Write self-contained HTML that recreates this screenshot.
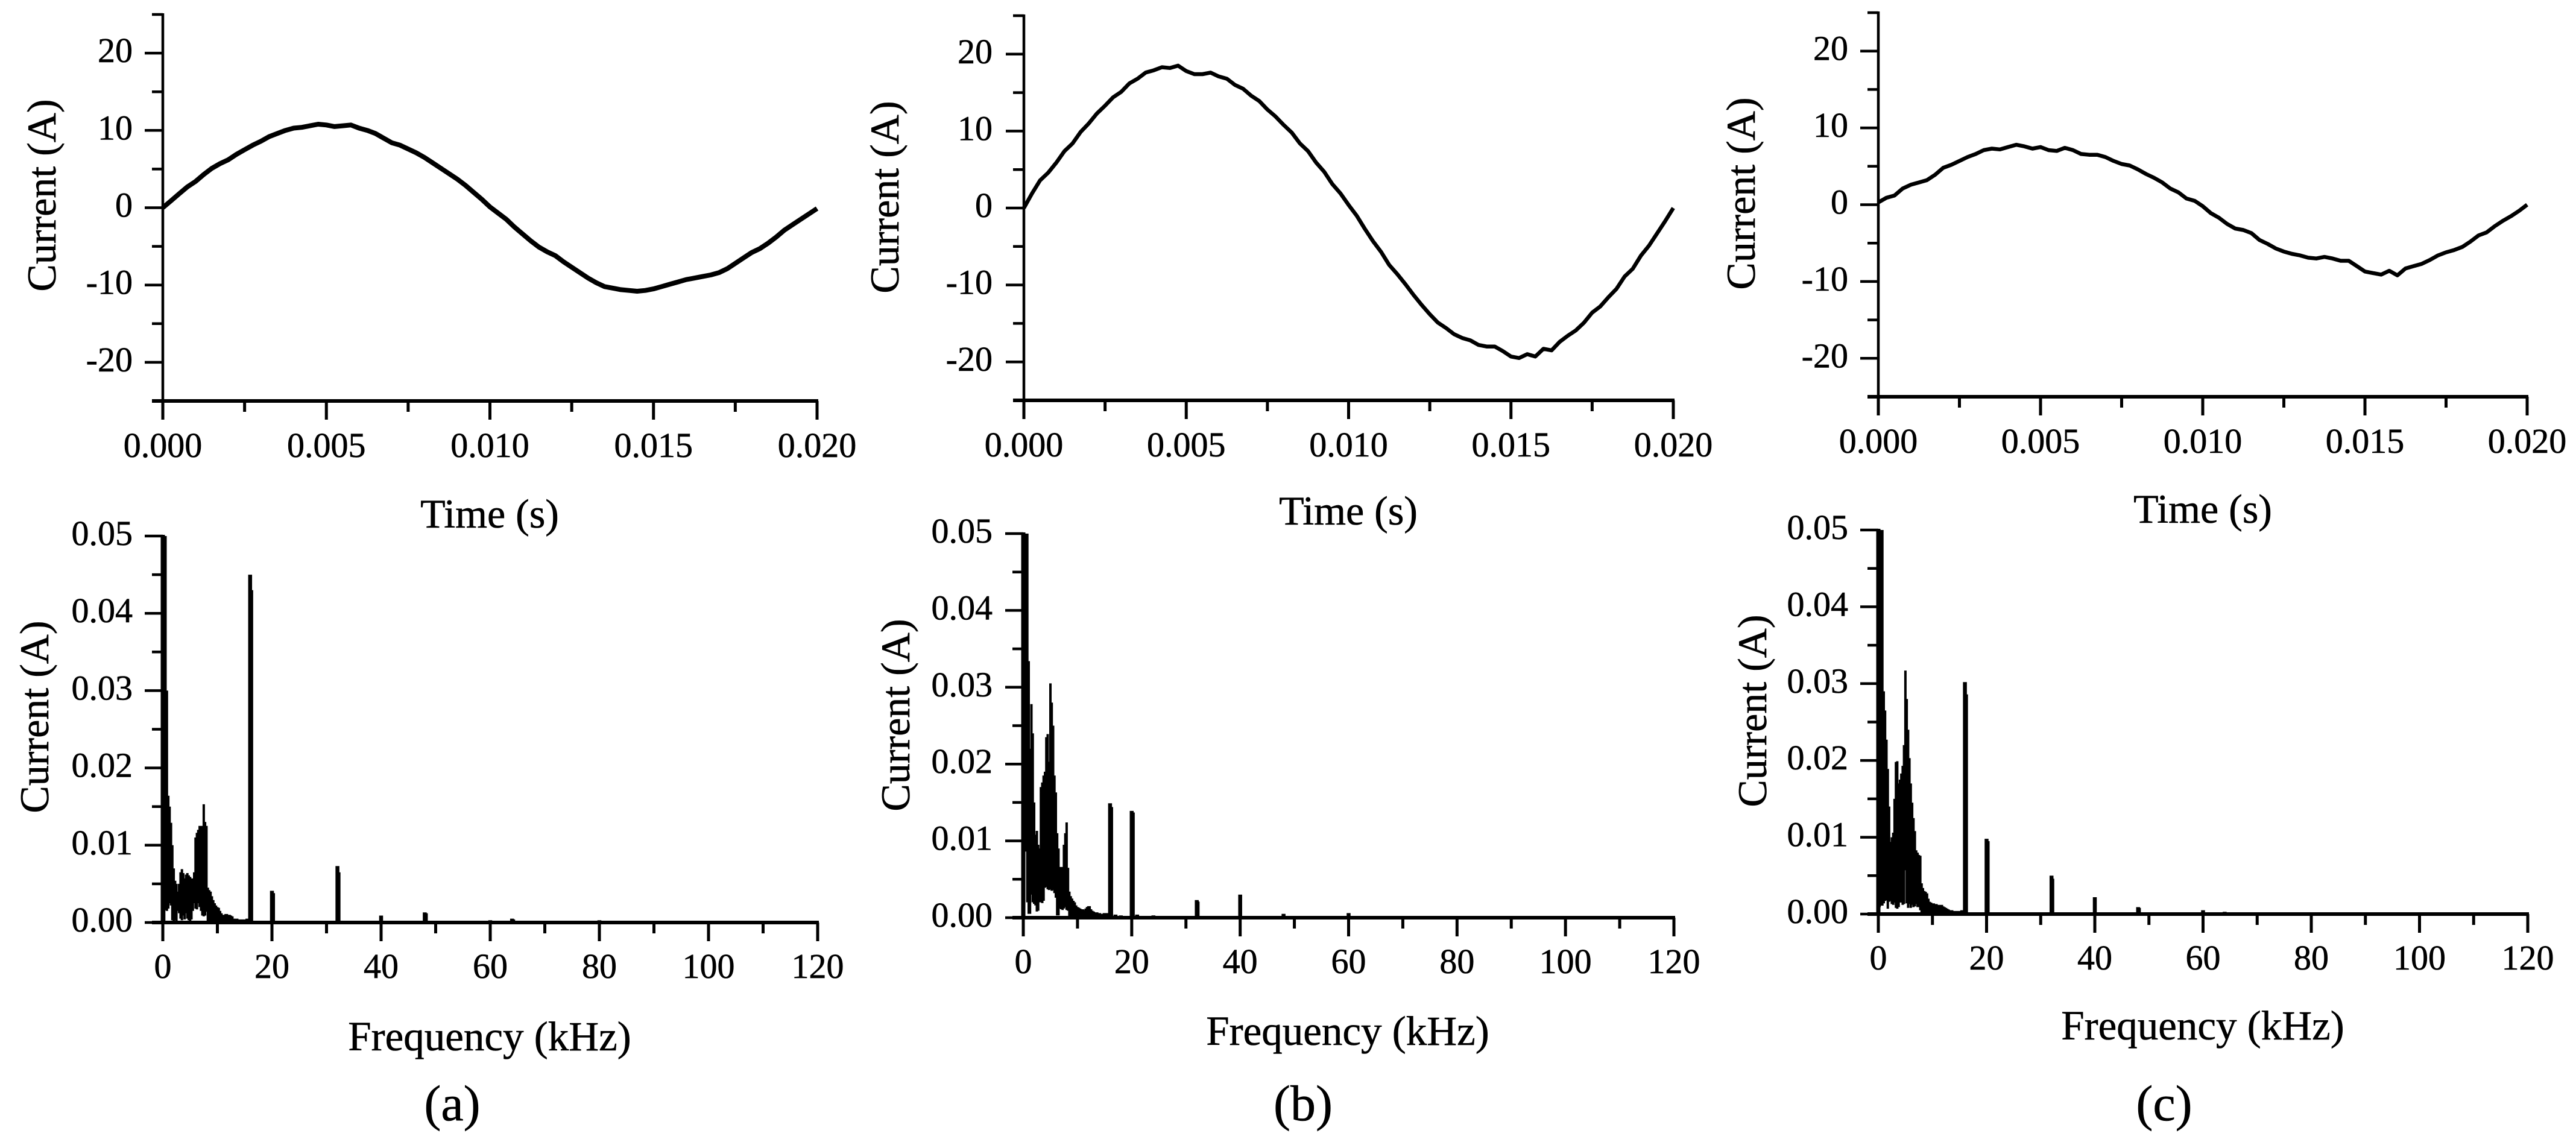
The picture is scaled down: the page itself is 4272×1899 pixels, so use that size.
<!DOCTYPE html>
<html lang="en">
<head>
<meta charset="utf-8">
<title>Current waveforms and spectra</title>
<style>
html,body{margin:0;padding:0;background:#fff;}
svg{display:block;}
text{font-family:"Liberation Serif",serif;fill:#000;stroke:#000;stroke-width:0.6px;}
</style>
</head>
<body>
<svg id="figure" xmlns="http://www.w3.org/2000/svg" width="4272" height="1899" viewBox="0 0 4272 1899">
<rect x="0" y="0" width="4272" height="1899" fill="#fff"/>
<text x="750" y="1858" font-size="84" text-anchor="middle">(a)</text>
<text x="2161" y="1858" font-size="84" text-anchor="middle">(b)</text>
<text x="3589" y="1858" font-size="84" text-anchor="middle">(c)</text>
</svg>
<script>
// ---------- tick values ----------
const timeMajorTicks = [0, 0.005, 0.010, 0.015, 0.020];
const timeMinorTicks = [0.0025, 0.0075, 0.0125, 0.0175];
const currentMajorTicks = [-20, -10, 0, 10, 20];
const currentMinorTicks = [-25, -15, -5, 5, 15, 25];
const freqMajorTicks = [0, 20, 40, 60, 80, 100, 120];
const freqMinorTicks = [10, 30, 50, 70, 90, 110];
const ampMajorTicks = [0, 0.01, 0.02, 0.03, 0.04, 0.05];
const ampMinorTicks = [0.005, 0.015, 0.025, 0.035, 0.045];

// ---------- waveform values (A), evenly spaced over 0..0.020 s ----------
const waveA = [0,0.9,1.8,2.7,3.4,4.3,5.1,5.7,6.2,6.9,7.5,8.1,8.6,9.2,9.6,10.0,10.3,10.4,10.6,10.8,10.7,10.5,10.6,10.7,10.3,10.0,9.6,9.0,8.4,8.1,7.6,7.1,6.5,5.8,5.1,4.4,3.7,2.9,2.0,1.1,0.1,-0.7,-1.5,-2.5,-3.4,-4.3,-5.1,-5.7,-6.2,-7.0,-7.7,-8.4,-9.1,-9.7,-10.2,-10.4,-10.6,-10.7,-10.8,-10.7,-10.5,-10.2,-9.9,-9.6,-9.3,-9.1,-8.9,-8.7,-8.4,-7.9,-7.2,-6.5,-5.8,-5.3,-4.6,-3.8,-2.9,-2.2,-1.5,-0.8,-0.1];
const waveB = [0,1.9,3.6,4.6,5.9,7.4,8.4,9.9,11,12.3,13.3,14.4,15.1,16.2,16.8,17.6,17.9,18.3,18.2,18.5,17.8,17.4,17.4,17.6,17.1,16.8,16,15.5,14.6,13.9,12.8,11.9,10.8,9.8,8.4,7.4,5.9,4.7,3.1,1.9,0.4,-1.0,-2.7,-4.3,-5.7,-7.4,-8.6,-9.9,-11.3,-12.6,-13.8,-14.9,-15.6,-16.4,-16.9,-17.2,-17.8,-18.0,-18.0,-18.6,-19.3,-19.5,-19.0,-19.3,-18.3,-18.5,-17.4,-16.6,-15.9,-14.9,-13.6,-12.8,-11.6,-10.5,-8.9,-7.9,-6.2,-4.9,-3.3,-1.7,0];
const waveC = [0.3,0.9,1.2,2.1,2.6,2.9,3.2,3.9,4.8,5.2,5.7,6.2,6.6,7.1,7.3,7.2,7.5,7.8,7.6,7.3,7.5,7.1,7.0,7.4,7.1,6.6,6.5,6.5,6.2,5.7,5.3,5.1,4.6,4.0,3.5,2.9,2.1,1.6,0.8,0.5,-0.2,-1.1,-1.7,-2.5,-3.1,-3.3,-3.7,-4.6,-5.1,-5.7,-6.1,-6.4,-6.6,-6.9,-7.0,-6.8,-7.0,-7.3,-7.3,-8.0,-8.7,-8.9,-9.1,-8.6,-9.2,-8.3,-8.0,-7.7,-7.2,-6.6,-6.2,-5.9,-5.5,-4.8,-4.0,-3.6,-2.8,-2.1,-1.5,-0.8,0];

// ---------- spectrum values (mA) ----------
const bandFreq = [0,0.25,0.5,0.75,1,1.25,1.5,1.75,2,2.25,2.5,2.75,3,3.25,3.5,3.75,4,4.25,4.5,4.75,5,5.25,5.5,5.75,6,6.25,6.5,6.75,7,7.25,7.5,7.75,8,8.25,8.5,8.75,9,9.25,9.5,9.75,10,10.25,10.5,10.75,11,11.25,11.5,11.75,12,12.25,12.5,12.75,13];
const bandPeakA = [50,50,50,30,16.4,15,12.9,10,7,5.4,5,4,5,6.5,6.9,6.4,5.7,6.2,6.4,6.1,5.9,5.7,5.7,6.5,11,11.6,12,12.5,12.5,12.5,15.3,13,12.5,4.5,4.2,4,3.4,2.9,2.5,2.2,2,1.9,1.5,1.2,1,1,1.1,1.1,1,1,0.9,0.8,0.5];
const bandFloorA = [0,0,1.6,1.5,1.8,2.5,2.2,0.3,0.2,0.3,0.2,1.5,1.2,0.5,0.3,0.9,0.4,1.2,0.5,0.3,0.2,0.4,1.5,2.5,1.8,1.7,2.5,2,1.5,0.9,0.8,0.9,1.4,0.2,0,0,0,0,0,0,0,0,0,0,0,0,0,0,0,0,0,0,0];
const bandPeakB = [50,50,50,50,33.4,22,27.8,24,15,10.8,11.3,9.5,9,17,17.6,18.5,19,23.5,23.9,20.3,30.5,28,25,18.5,16.3,11,9,6.6,6.6,6.6,9.5,11,12.4,6.5,3.4,2.8,2.5,2.2,2,1.6,1.4,1.3,1.2,1.1,1.1,1,1.2,1.4,1.5,1.5,1.1,0.9,0.8];
const bandFloorB = [0,8.6,8.6,2,0.5,0.5,3,2,1.8,1.6,0.8,0.9,2,2,1.9,2.2,3.9,4,3.7,3.6,3.7,3.5,3.6,3.2,2.6,0.3,0.3,1.2,1.1,1,1.2,1.4,1,0.9,0.2,0,0,0,0,0,0,0,0,0,0,0,0,0,0,0,0,0,0];
const bandPeakC = [50,50,50,50,29,26.5,22.7,18.9,14,9.4,10,10.6,15,19.8,19.9,17,17.5,18.3,19.3,22,31.7,28,24,20.3,17,14.5,12.5,10.8,8.3,8,7.7,7.6,4,3.4,3,2.9,2.7,2,1.6,1.5,1.4,1.4,1.3,1.3,1.2,1.2,1.2,1.2,1,0.9,0.8,0.7,0.6];
const bandFloorC = [0,0.9,1.1,1.1,1.4,1.7,1.8,0.7,1.6,1.7,1.3,1.2,1.5,0.8,0.7,0.9,1.5,1.5,1.2,1.3,5.7,1.4,0.8,1.3,0.8,1.2,0.9,1,1.3,0.9,0.9,0.5,0,0,0,0,0,0,0,0,0,0,0,0,0,0,0,0,0,0,0,0,0];
const spikeFreqA = [13.5,14,14.5,15,15.5,16,16.2,20,20.2,32,32.2,40,48,48.2,60,64,64.2,80];
const spikeAmpA = [0.5,0.4,0.4,0.4,0.5,45,43,4.1,3.8,7.3,6.5,0.9,1.3,1.2,0.3,0.5,0.4,0.3];
const spikeFreqB = [13.5,14,14.5,15,15.5,16,16.2,17,18,20,20.2,21,24,32,32.15,40,48,60,80];
const spikeAmpB = [0.7,0.6,0.5,0.6,0.6,14.9,14.4,0.4,0.3,13.9,13.7,0.4,0.3,2.3,2.1,3,0.5,0.6,0.2];
const spikeFreqC = [13.5,14,14.5,15,15.5,16,16.2,20,20.2,24,32,32.15,40,48,48.15,60,64];
const spikeAmpC = [0.5,0.4,0.4,0.4,0.5,30.2,28.6,9.8,9.5,0.2,5,4.6,2.2,0.9,0.8,0.5,0.3];

const NS = 'http://www.w3.org/2000/svg';
const svg = document.getElementById('figure');

function node(tag, attrs, parent, name) {
  const el = document.createElementNS(NS, tag);
  for (const k in attrs) el.setAttribute(k, attrs[k]);
  
  
  parent.appendChild(el);
  return el;
}
function label(parent, name, x, y, size, anchor, str, rotate) {
  const attrs = {x: x, y: y, 'font-size': size, 'text-anchor': anchor};
  if (rotate) attrs.transform = 'rotate(-90 ' + x + ' ' + y + ')';
  const t = node('text', attrs, parent, name);
  t.textContent = str;
  return t;
}

function drawAxes(g, box, opt) {
  const sx = v => box.x0 + (v - opt.xMin) / (opt.xMax - opt.xMin) * (box.x1 - box.x0);
  const sy = v => box.yBottom - (v - opt.yMin) / (opt.yMax - opt.yMin) * (box.yBottom - box.yTop);
  const tickW = 5;
  node('line', {x1: box.x0, y1: box.yBottom + 2, x2: box.x0, y2: box.yTop - 2, stroke: '#000', 'stroke-width': opt.yAxisW}, g, 'y-axis-line');
  node('line', {x1: box.x0 - 18, y1: sy(opt.xAxisAt), x2: box.x1 + 2, y2: sy(opt.xAxisAt), stroke: '#000', 'stroke-width': opt.xAxisW}, g, 'x-axis-line');
  opt.xMajor.forEach(v => {
    node('line', {x1: sx(v), y1: box.yBottom, x2: sx(v), y2: box.yBottom + 31, stroke: '#000', 'stroke-width': tickW}, g, 'x-major-tick');
    label(g, 'x-tick-label', sx(v), box.yBottom + opt.xLabelDy, opt.tickSize, 'middle', opt.xFmt(v));
  });
  opt.xMinor.forEach(v => {
    node('line', {x1: sx(v), y1: box.yBottom, x2: sx(v), y2: box.yBottom + 18, stroke: '#000', 'stroke-width': tickW}, g, 'x-minor-tick');
  });
  opt.yMajor.forEach(v => {
    node('line', {x1: box.x0 - 30, y1: sy(v), x2: box.x0, y2: sy(v), stroke: '#000', 'stroke-width': 4.5}, g, 'y-major-tick');
    label(g, 'y-tick-label', box.labelRight, sy(v) + 15, opt.tickSize, 'end', opt.yFmt(v));
  });
  opt.yMinor.forEach(v => {
    node('line', {x1: box.x0 - 18, y1: sy(v), x2: box.x0, y2: sy(v), stroke: '#000', 'stroke-width': 4.5}, g, 'y-minor-tick');
  });
  label(g, 'y-axis-title', box.yTitleX, box.yTitleY, 68, 'middle', 'Current (A)', true);
  label(g, 'x-axis-title', box.xTitleX, box.xTitleY, opt.xTitleSize, 'middle', opt.xTitle);
  return {sx: sx, sy: sy};
}

function waveformPanel(id, box, values, width) {
  const g = node('g', {}, svg, 'waveform-plot-' + id);
  const s = drawAxes(g, box, {
    xMin: 0, xMax: 0.02, yMin: -25, yMax: 25, xAxisAt: -25, yAxisW: 4.5, xAxisW: 6, tickSize: 58, xLabelDy: 93,
    xMajor: timeMajorTicks, xMinor: timeMinorTicks, yMajor: currentMajorTicks, yMinor: currentMinorTicks,
    xFmt: v => v.toFixed(3), yFmt: v => String(v), xTitle: 'Time (s)', xTitleSize: 68
  });
  const step = 0.02 / (values.length - 1);
  const pts = values.map((v, i) => s.sx(i * step).toFixed(1) + ',' + s.sy(v).toFixed(1)).join(' ');
  node('polyline', {points: pts, fill: 'none', stroke: '#000', 'stroke-width': width, 'stroke-linejoin': 'round'}, g, 'current-waveform-line');
}

function spectrumPanel(id, box, peaks, floors, spikeF, spikeA) {
  const g = node('g', {}, svg, 'spectrum-plot-' + id);
  const s = drawAxes(g, box, {
    xMin: 0, xMax: 120, yMin: 0, yMax: 0.05, xAxisAt: 0, yAxisW: 7, xAxisW: 6, tickSize: 58, xLabelDy: 92,
    xMajor: freqMajorTicks, xMinor: freqMinorTicks, yMajor: ampMajorTicks, yMinor: ampMinorTicks,
    xFmt: v => String(v), yFmt: v => v.toFixed(2), xTitle: 'Frequency (kHz)', xTitleSize: 69
  });
  let band = '';
  bandFreq.forEach((f, i) => {
    band += 'M' + s.sx(f).toFixed(1) + ' ' + s.sy(floors[i] / 1000).toFixed(1) + 'V' + s.sy(peaks[i] / 1000).toFixed(1);
  });
  node('path', {d: band, fill: 'none', stroke: '#000', 'stroke-width': 4}, g, 'spectrum-low-frequency-band');
  let spikes = '';
  spikeF.forEach((f, i) => {
    spikes += 'M' + s.sx(f).toFixed(1) + ' ' + s.sy(0).toFixed(1) + 'V' + s.sy(spikeA[i] / 1000).toFixed(1);
  });
  node('path', {d: spikes, fill: 'none', stroke: '#000', 'stroke-width': 6.5}, g, 'spectrum-harmonic-spikes');
}

waveformPanel('a', {x0: 270, x1: 1355, yTop: 24, yBottom: 665, labelRight: 220, yTitleX: 92, yTitleY: 324, xTitleX: 812, xTitleY: 875}, waveA, 8);
waveformPanel('b', {x0: 1698, x1: 2775, yTop: 26, yBottom: 664, labelRight: 1646, yTitleX: 1490, yTitleY: 327, xTitleX: 2236, xTitleY: 870}, waveB, 6.5);
waveformPanel('c', {x0: 3115, x1: 4191, yTop: 21, yBottom: 658, labelRight: 3065, yTitleX: 2910, yTitleY: 321, xTitleX: 3653, xTitleY: 867}, waveC, 6.5);
spectrumPanel('a', {x0: 270, x1: 1356, yTop: 889, yBottom: 1530, labelRight: 220, yTitleX: 80, yTitleY: 1189, xTitleX: 812, xTitleY: 1742}, bandPeakA, bandFloorA, spikeFreqA, spikeAmpA);
spectrumPanel('b', {x0: 1697, x1: 2776, yTop: 885, yBottom: 1522, labelRight: 1646, yTitleX: 1508, yTitleY: 1186, xTitleX: 2235, xTitleY: 1733}, bandPeakB, bandFloorB, spikeFreqB, spikeAmpB);
spectrumPanel('c', {x0: 3115, x1: 4192, yTop: 879, yBottom: 1516, labelRight: 3065, yTitleX: 2929, yTitleY: 1179, xTitleX: 3653, xTitleY: 1724}, bandPeakC, bandFloorC, spikeFreqC, spikeAmpC);
</script>
</body>
</html>
